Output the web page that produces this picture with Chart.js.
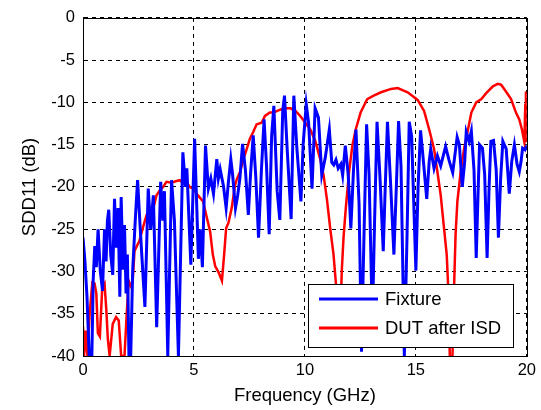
<!DOCTYPE html>
<html>
<head>
<meta charset="utf-8">
<script src="https://cdn.jsdelivr.net/npm/chart.js@4"></script>
<style>
body { margin: 0; background: #fff; }
</style>
</head>
<body>
<canvas id="sddChart" width="541" height="410"></canvas>
<script>
const fixtureGhz = [
  0.00, 0.08, 0.18, 0.28, 0.40, 0.46, 0.53, 0.60, 0.68, 0.78, 0.88, 0.97, 1.04, 1.10, 1.16, 1.25,
  1.34, 1.42, 1.50, 1.58, 1.66, 1.72, 1.80, 1.87, 1.94, 2.00, 2.07, 2.15, 2.24, 2.36, 2.46, 2.57,
  2.66, 2.79, 2.94, 3.05, 3.17, 3.32, 3.50, 3.60, 3.67, 3.82, 3.99, 4.12, 4.30, 4.50, 4.62, 4.68,
  4.86, 5.03, 5.20, 5.28, 5.38, 5.52, 5.65, 5.76, 5.88, 6.03, 6.10, 6.18, 6.33, 6.45, 6.55, 6.66,
  6.74, 6.87, 6.97, 7.07, 7.19, 7.32, 7.45, 7.55, 7.67, 7.79, 7.91, 8.04, 8.16, 8.27, 8.39, 8.50,
  8.60, 8.75, 8.87, 9.00, 9.08, 9.20, 9.38, 9.50, 9.64, 9.82, 9.92, 10.06, 10.17, 10.32, 10.46, 10.61,
  10.76, 10.92, 11.10, 11.21, 11.30, 11.40, 11.50, 11.62, 11.70, 11.82, 11.95, 12.07, 12.19, 12.30, 12.44, 12.55,
  12.66, 12.78, 12.89, 13.04, 13.14, 13.25, 13.38, 13.53, 13.62, 13.72, 13.86, 14.01, 14.12, 14.22, 14.33, 14.48,
  14.60, 14.70, 14.81, 15.00, 15.10, 15.21, 15.30, 15.49, 15.60, 15.67, 15.82, 15.97, 16.12, 16.34, 16.49, 16.66,
  16.86, 16.96, 17.09, 17.20, 17.27, 17.40, 17.50, 17.62, 17.72, 17.80, 17.87, 18.00, 18.10, 18.21, 18.30, 18.38,
  18.50, 18.62, 18.72, 18.82, 18.92, 19.07, 19.21, 19.32, 19.44, 19.56, 19.66, 19.74, 19.81, 19.92, 20.00
];
const fixtureDb = [
  -26, -28.5, -33, -40, -40, -31, -27, -29.5, -25, -30, -32.3, -25, -28.8, -24, -22.7, -28,
  -30.4, -21.4, -27.2, -22.5, -33, -21.2, -29.8, -24.5, -32.6, -28, -40, -40, -29.8, -23.7, -19.2, -24.5,
  -28.5, -34.2, -20.2, -25, -21, -36.6, -19.4, -24, -20.5, -40, -19.2, -24, -40, -15.9, -20, -17.8,
  -29.2, -14.3, -28.5, -25, -29.5, -15.1, -20.2, -19, -20.8, -16.7, -19, -17.9, -19.9, -22.5, -19.5, -16.7,
  -18.5, -22.5, -21, -19, -14.9, -18, -23.3, -18.5, -13.9, -19, -26, -18, -12.0, -17.5, -25.6, -14,
  -10.4, -20.5, -23.9, -11, -9.2, -15.5, -23.8, -9.2, -15.5, -21.7, -15, -10.2, -12.5, -20.2, -10.7, -11.8,
  -18.6, -16.5, -13.2, -17.1, -17.4, -16.8, -17.8, -17.3, -18.6, -15.1, -18.5, -24.9, -18, -13.2, -22, -39.5,
  -26, -12.6, -18.5, -36, -24, -12.3, -18.7, -27.6, -20, -12.3, -19.5, -28, -20, -12.2, -17.5, -40,
  -26, -12.3, -14, -29.9, -20, -13.3, -15.8, -21.4, -17, -15.5, -17.8, -16.3, -17.5, -15.2, -16.8, -18.3,
  -14.1, -15, -20, -17, -13.5, -14.6, -13.4, -18, -28.4, -21, -15, -15.4, -18.5, -28.4, -20, -14.6,
  -14.5, -18, -26, -19, -14.6, -15.5, -20.8, -17, -15, -17.3, -18.2, -17, -15.4, -15.6, -15.1
];

const dutGhz = [
  0.00, 0.05, 0.12, 0.20, 0.30, 0.42, 0.52, 0.60, 0.67, 0.76, 0.87, 0.97, 1.05, 1.12, 1.20, 1.34,
  1.49, 1.61, 1.72, 1.87, 1.97, 2.06, 2.17, 2.24, 2.32, 2.46, 2.54, 2.69, 2.87, 3.02, 3.17, 3.31,
  3.46, 3.61, 3.76, 3.99, 4.21, 4.36, 4.51, 4.66, 4.81, 4.96, 5.18, 5.41, 5.55, 5.73, 5.85, 5.96,
  6.11, 6.26, 6.36, 6.45, 6.56, 6.70, 6.85, 6.93, 7.08, 7.23, 7.38, 7.52, 7.67, 7.82, 8.05, 8.20,
  8.42, 8.60, 8.75, 9.05, 9.35, 9.57, 9.79, 10.02, 10.24, 10.46, 10.69, 10.84, 10.99, 11.14, 11.29, 11.40,
  11.50, 11.58, 11.66, 11.74, 11.84, 11.99, 12.14, 12.29, 12.51, 12.81, 13.10, 13.43, 13.88, 14.18, 14.63, 15.08,
  15.37, 15.60, 15.82, 15.97, 16.12, 16.27, 16.39, 16.46, 16.53, 16.65, 16.72, 16.79, 16.87, 17.02, 17.17, 17.35,
  17.50, 17.72, 17.95, 18.17, 18.47, 18.69, 18.84, 19.06, 19.29, 19.51, 19.66, 19.78, 19.89, 19.93, 19.96, 20.00
];
const dutDb = [
  -36.5, -40, -37, -40, -35, -31.3, -31.4, -32.6, -37.3, -37.7, -31.8, -31.4, -34.5, -38, -40, -36.2,
  -35.4, -35.8, -40, -40, -35, -31.1, -31.8, -31.1, -27.6, -26.8, -26.4, -24.9, -23.3, -23, -22.5, -21,
  -20.4, -20, -19.4, -19.5, -19.3, -19.2, -19.6, -19.4, -20, -20.2, -21, -21.7, -23.3, -25.3, -28, -29.4,
  -30.1, -31.1, -28, -24.9, -24.2, -22.5, -19.8, -19.1, -18.2, -16.7, -15.5, -14.3, -13.5, -12.6, -12.4, -11.6,
  -11.2, -11.2, -11, -10.7, -10.7, -11, -11.6, -12.4, -13.2, -14.5, -16.7, -18.6, -21.4, -24.9, -28, -31.5,
  -37, -37, -30, -26, -22.6, -18.2, -15.1, -13.2, -11.2, -9.6, -9.2, -8.8, -8.4, -8.3, -8.8, -9.7,
  -11, -13.2, -15.5, -18.2, -21, -24.9, -28, -32, -40, -40, -32, -25.6, -21.7, -18.2, -15.5, -13.2,
  -11.2, -10, -9.6, -8.9, -8.1, -7.8, -7.9, -8.7, -9.6, -11.2, -12.0, -13.2, -14.7, -10.3, -8.7, -14.7
];

const freqTicks = [0, 5, 10, 15, 20];
const dbTicks = [0, -5, -10, -15, -20, -25, -30, -35, -40];

const fontFamily = "'Liberation Sans', Arial, sans-serif";

function toPoints(xs, ys) {
  return xs.map((x, i) => ({ x: x, y: ys[i] }));
}

// axes box on all four sides plus a boxed legend in the lower right
const boxLegend = {
  id: "boxLegend",
  afterDatasetsDraw(chart) {
    const ctx = chart.ctx;
    const area = chart.chartArea;
    ctx.save();
    ctx.setLineDash([]);
    ctx.strokeStyle = "#000";
    ctx.lineWidth = 1;
    ctx.strokeRect(Math.round(area.left) + 0.5, Math.round(area.top) + 0.5,
      Math.round(area.right - area.left), Math.round(area.bottom - area.top));

    const w = 205, h = 63;
    const left = Math.round(area.right) - 219;
    const top = Math.round(area.bottom) - 72;
    ctx.fillStyle = "#fff";
    ctx.fillRect(left, top, w, h);
    ctx.strokeRect(left + 0.5, top + 0.5, w, h);

    ctx.font = "18.5px " + fontFamily;
    ctx.textBaseline = "middle";
    chart.data.datasets.forEach((ds, i) => {
      const y = top + 15 + i * 29;
      ctx.strokeStyle = ds.borderColor;
      ctx.lineWidth = 2.8;
      ctx.beginPath();
      ctx.moveTo(left + 11, y);
      ctx.lineTo(left + 70, y);
      ctx.stroke();
      ctx.fillStyle = "#000";
      ctx.fillText(ds.label, left + 77, y + 1);
    });
    ctx.restore();
  }
};

new Chart(document.getElementById("sddChart"), {
  type: "line",
  data: {
    datasets: [
      {
        label: "Fixture",
        data: toPoints(fixtureGhz, fixtureDb),
        borderColor: "#0000ff",
        borderWidth: 3,
        pointRadius: 0,
        tension: 0
      },
      {
        label: "DUT after ISD",
        data: toPoints(dutGhz, dutDb),
        borderColor: "#ff0000",
        borderWidth: 2.5,
        pointRadius: 0,
        tension: 0
      }
    ]
  },
  options: {
    responsive: false,
    animation: false,
    layout: { padding: { top: 14, right: 10, left: 0, bottom: 0 } },
    plugins: {
      legend: { display: false },
      tooltip: { enabled: false }
    },
    scales: {
      x: {
        type: "linear",
        min: 0,
        max: 20,
        afterBuildTicks: s => { s.ticks = freqTicks.map(v => ({ value: v })); },
        afterFit: s => { s.height = 54; },
        ticks: {
          color: "#000",
          padding: 5,
          maxRotation: 0,
          font: { family: fontFamily, size: 16.5 }
        },
        grid: { color: "#000", lineWidth: 1, drawTicks: false },
        border: { display: true, color: "#000", dash: [4, 4] },
        title: {
          display: true,
          text: "Frequency (GHz)",
          color: "#000",
          padding: { top: 0, bottom: 3 },
          font: { family: fontFamily, size: 18.5 }
        }
      },
      y: {
        type: "linear",
        min: -40,
        max: 0,
        afterBuildTicks: s => { s.ticks = dbTicks.map(v => ({ value: v })); },
        afterFit: s => { s.width = 83; },
        ticks: {
          color: "#000",
          padding: 8,
          font: { family: fontFamily, size: 16.5 }
        },
        grid: { color: "#000", lineWidth: 1, drawTicks: false },
        border: { display: true, color: "#000", dash: [4, 4] },
        title: {
          display: true,
          text: "SDD11 (dB)",
          color: "#000",
          padding: { top: 19, bottom: 0 },
          font: { family: fontFamily, size: 18.5 }
        }
      }
    }
  },
  plugins: [boxLegend]
});
</script>
</body>
</html>
